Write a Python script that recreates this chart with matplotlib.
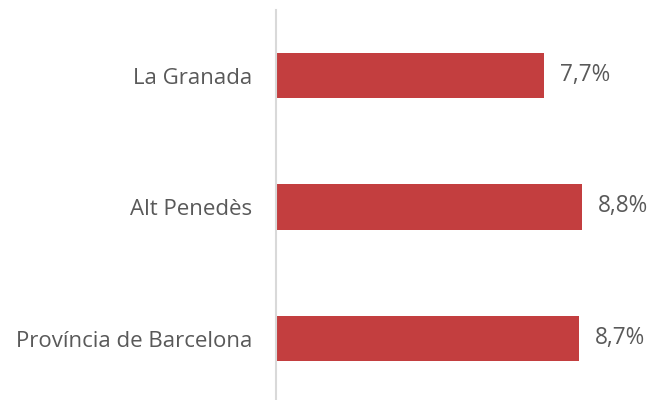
import matplotlib
matplotlib.use("Agg")
import matplotlib.pyplot as plt

categories = ["La Granada", "Alt Penedès", "Província de Barcelona"]
values = [7.7, 8.8, 8.7]
value_labels = ["7,7%", "8,8%", "8,7%"]

plt.rcParams['font.family'] = ['Open Sans', 'DejaVu Sans']

W, H = 653, 400
fig = plt.figure(figsize=(W/100, H/100), dpi=100)
left = 276 / W
top_px = 9.75
height_px = 394.5
ax = fig.add_axes([left, (H - top_px - height_px) / H, (652 - 276) / W, height_px / H])

bar_color = "#C33E3F"
text_color = "#595959"
ypos = list(range(len(categories)))
ax.barh(ypos, values, height=0.345, color=bar_color, zorder=2)
ax.set_xlim(0, 376 / 34.8)
ax.set_ylim(len(categories) - 0.5, -0.5)

for y, v, lab in zip(ypos, values, value_labels):
    ax.annotate(lab, (v, y), xytext=(16, 1), textcoords="offset pixels",
                ha="left", va="center", fontsize=16.3, color=text_color)

ax.set_yticks(ypos)
ax.set_yticklabels(categories, fontsize=16, color=text_color)
ax.tick_params(axis="y", length=0, pad=17)
ax.set_xticks([])
for s in ["top", "right", "bottom"]:
    ax.spines[s].set_visible(False)
ax.spines["left"].set_color("#D9D9D9")
ax.spines["left"].set_linewidth(1.5)

fig.savefig("out.png", dpi=100)
